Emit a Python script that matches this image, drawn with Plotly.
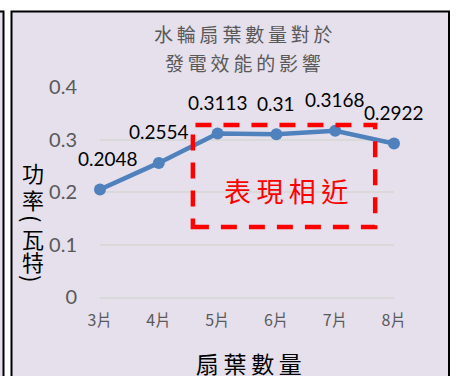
import plotly.graph_objects as go

# ---- data ----
blade_counts = ["3片", "4片", "5片", "6片", "7片", "8片"]
power_watts = [0.2048, 0.2554, 0.3113, 0.31, 0.3168, 0.2922]
y_ticks = [0, 0.1, 0.2, 0.3, 0.4]
y_tick_labels = ["0", "0.1", "0.2", "0.3", "0.4"]
chart_title_lines = ["水輪扇葉數量對於", "發電效能的影響"]
y_title_chars = ["功", "率", "(", "瓦", "特", ")"]
x_title = "扇葉數量"
callout_text = "表現相近"

# ---- styling ----
W, H = 456, 376
L, R, T, B = 100, 62, 87, 79
PW, PH = W - L - R, H - T - B
BG = "#E5E0EC"
BLUE = "#4F81BD"
GRAY = "#595959"
GRID = "#D9D9D9"
CJK = "Noto Sans CJK TC"
NUM = "Lato"


def px_x(px):
    return (px - L) / PW


def px_y(py):
    return (H - B - py) / PH


fig = go.Figure()
fig.add_trace(go.Scatter(
    x=blade_counts, y=power_watts, mode="lines+markers",
    line=dict(color=BLUE, width=4.5),
    marker=dict(color=BLUE, size=12),
    cliponaxis=False, hoverinfo="skip",
))

annotations = []
# value labels above each point
for i, (cat, v) in enumerate(zip(blade_counts, power_watts)):
    annotations.append(dict(
        x=cat, y=v, xref="x", yref="y", text=f"{v:g}", showarrow=False,
        yshift=31, xshift=8 if i == 0 else 0,
        font=dict(family=NUM, size=19, color="black"),
    ))

# chart title, two lines
thin = "\u2009"
for line, py in zip(chart_title_lines, [33, 63]):
    annotations.append(dict(
        x=px_x(243), y=px_y(py), xref="paper", yref="paper",
        text=thin.join(line), showarrow=False, xanchor="center", yanchor="middle",
        font=dict(family=CJK, size=19, color=GRAY),
    ))

# vertical y-axis title, one glyph per line; brackets turned sideways
for ch, py in zip(y_title_chars, [172, 199, 218, 238, 261, 278]):
    is_bracket = ch in "()"
    annotations.append(dict(
        x=px_x(33), y=px_y(py), xref="paper", yref="paper",
        text=ch, showarrow=False, xanchor="center", yanchor="middle",
        textangle=90 if is_bracket else 0,
        font=dict(family=CJK, size=22, color="black"),
    ))

# x-axis title
annotations.append(dict(
    x=px_x(249), y=px_y(363), xref="paper", yref="paper",
    text=thin.join(x_title), showarrow=False, xanchor="center", yanchor="middle",
    font=dict(family=CJK, size=23, color="black"),
))

# callout text inside the dashed box
annotations.append(dict(
    x=px_x(286), y=px_y(190), xref="paper", yref="paper",
    text=thin.join(callout_text), showarrow=False, xanchor="center", yanchor="middle",
    font=dict(family=CJK, size=27, color="#FF0000"),
))

shapes = [
    # neighbouring panel edge on the left
    dict(type="rect", xref="paper", yref="paper", layer="below",
         x0=px_x(-20), x1=px_x(3.5), y0=px_y(420), y1=px_y(11.5),
         fillcolor=BG, line=dict(color="black", width=2)),
    # chart area frame
    dict(type="rect", xref="paper", yref="paper", layer="below",
         x0=px_x(11.5), x1=px_x(449), y0=px_y(420), y1=px_y(11.5),
         fillcolor=BG, line=dict(color="black", width=2)),
    # dashed highlight box around the plateau
    dict(type="rect", xref="x", yref="y", layer="above",
         x0=1.58, x1=4.68, y0=0.1333, y1=0.3276,
         line=dict(color="#FF0000", width=4.5, dash="16px,12px")),
]

fig.update_layout(
    width=W, height=H,
    margin=dict(l=L, r=R, t=T, b=B, pad=0),
    paper_bgcolor="white", plot_bgcolor=BG,
    showlegend=False,
    annotations=annotations, shapes=shapes,
    xaxis=dict(
        type="category", range=[0, 5], showgrid=False,
        showline=True, linecolor=GRID, linewidth=1.5, ticks="",
        tickfont=dict(family=CJK, size=16, color=GRAY),
        ticklabelstandoff=8, fixedrange=True,
    ),
    yaxis=dict(
        range=[0, 0.4], tickvals=y_ticks, ticktext=y_tick_labels,
        showgrid=True, gridcolor=GRID, gridwidth=1.5,
        zeroline=True, zerolinecolor=GRID, zerolinewidth=1.5,
        showline=False, ticks="",
        tickfont=dict(family=NUM, size=20, color=GRAY),
        ticklabelstandoff=22, fixedrange=True,
    ),
)

fig.write_html("out.html")
